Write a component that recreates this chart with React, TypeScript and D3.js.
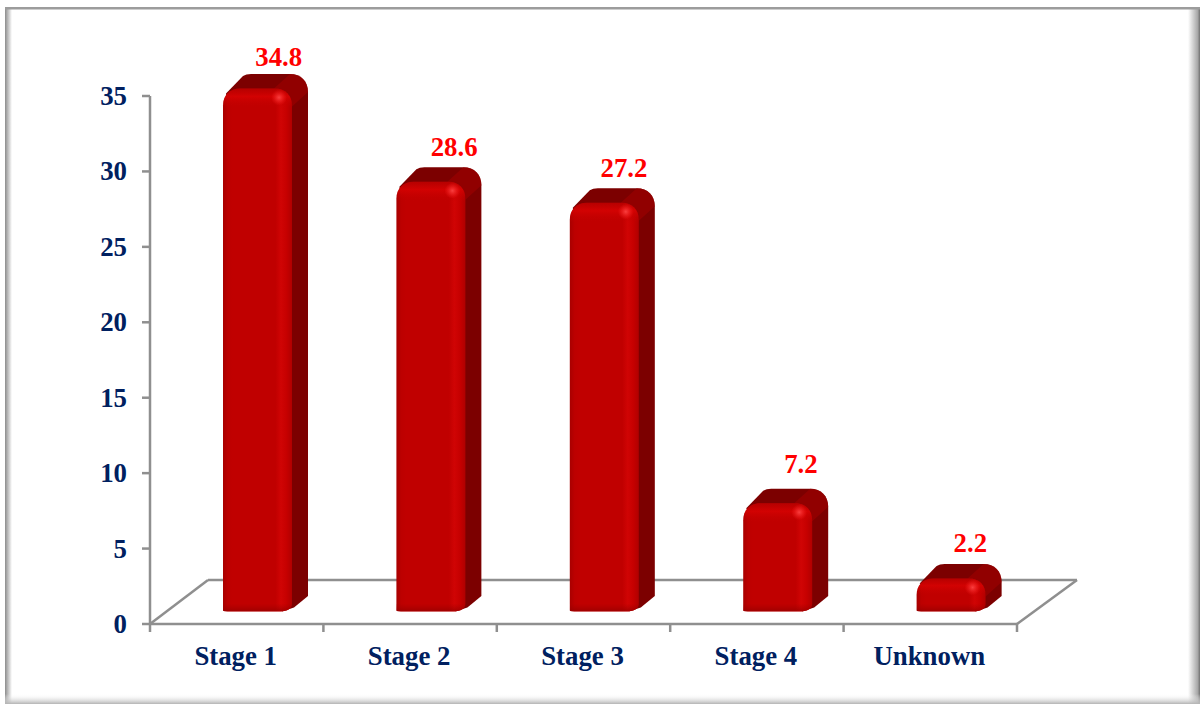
import React from "react";
import * as d3 from "d3";

const categories = ["Stage 1", "Stage 2", "Stage 3", "Stage 4", "Unknown"];
const values = [34.8, 28.6, 27.2, 7.2, 2.2];
const valueLabels = ["34.8", "28.6", "27.2", "7.2", "2.2"];
const yTicks = [0, 5, 10, 15, 20, 25, 30, 35];

const W = 1200, H = 704;
const NAVY = "#002060";
const GRID = "#8f8f8f";
const FONT = "'Liberation Serif', serif";
const FS = 26.8;

const x = d3.scaleBand<string>().domain(categories).range([150, 1017]).paddingInner(0).paddingOuter(0);
const y = d3.scaleLinear().domain([0, 35]).range([624, 96]);
const barY = d3.scaleLinear().domain([0, 35]).range([611.5, 85.5]);
const dx = 16, dy = 14.5, barW = 69, backX = 58, backY = 44;
const labelNudgeX = [42, 44, 40.5, 44, 40];
const labelNudgeY = [-23, -26, -26, -30, -26];

function roundedFront(x0: number, x1: number, top: number, bottom: number, r: number) {
  const p = d3.path();
  p.moveTo(x0, bottom - 1);
  p.lineTo(x0, top + r);
  p.bezierCurveTo(x0, top + r * 0.4, x0 + r * 0.4, top, x0 + r, top);
  p.lineTo(x1 - r, top);
  p.bezierCurveTo(x1 - r * 0.4, top, x1, top + r * 0.4, x1, top + r);
  p.lineTo(x1, bottom - 8);
  p.quadraticCurveTo(x1, bottom, x1 - 14, bottom);
  p.lineTo(x0 + 8, bottom);
  p.quadraticCurveTo(x0, bottom, x0, bottom - 1);
  p.closePath();
  return p.toString();
}

function body3d(x0: number, x1: number, top: number, bottom: number, r: number) {
  const p = d3.path();
  p.moveTo(x0 + 3, top + 5);
  p.lineTo(x0 + 20, top - dy + 2);
  p.quadraticCurveTo(x0 + 23, top - dy, x0 + 28, top - dy);
  p.lineTo(x1 + dx - r, top - dy);
  p.bezierCurveTo(x1 + dx - r * 0.4, top - dy, x1 + dx, top - dy + r * 0.4, x1 + dx, top - dy + r);
  p.lineTo(x1 + dx, bottom - dy - 1);
  p.lineTo(x1 + 2, bottom - 4);
  p.lineTo(x1 - 10, bottom);
  p.closePath();
  return p.toString();
}

function Bar({ name, v, i }: { name: string; v: number; i: number }) {
  const c = (x(name) as number) + x.bandwidth() / 2;
  const x0 = c - 13.7;
  const x1 = x0 + barW;
  const top = barY(v);
  const bottom = barY(0);
  const r = Math.min(17, (bottom - top) / 2);
  const id = `clip${i}`;
  const corner = d3.path();
  corner.moveTo(x1 - 18, top);
  corner.lineTo(x1 + dx - 18, top - dy);
  corner.bezierCurveTo(x1 + dx - 7, top - dy, x1 + dx, top - dy + 7, x1 + dx, top - dy + 18);
  corner.lineTo(x1, top + 18);
  corner.bezierCurveTo(x1, top + 7, x1 - 7, top, x1 - 18, top);
  corner.closePath();
  return (
    <g>
      <clipPath id={id}><path d={roundedFront(x0, x1, top, bottom, r)} /></clipPath>
      <path d={body3d(x0, x1, top, bottom, 18)} fill="#7c0000" />
      <path d={corner.toString()} fill="#9c0000" opacity={0.65} />
      <path d={roundedFront(x0, x1, top, bottom, r)} fill="url(#front)" />
      <g clipPath={`url(#${id})`}>
        <rect x={x0} y={top} width={x1 - x0} height={Math.min(20, (bottom - top) * 0.55)} fill="url(#bevel)" />
        <rect x={x0} y={bottom - 8} width={x1 - x0} height={8} fill="url(#bevelBottom)" />
        <circle cx={x1 - 13} cy={top + 9} r={8} fill="url(#spot)" />
      </g>
    </g>
  );
}

export default function App() {
  return (
    <svg width={W} height={H} viewBox={`0 0 ${W} ${H}`} style={{ position: "absolute", left: 0, top: 0, display: "block", background: "#fff" }}>
      <defs>
        <linearGradient id="front" x1="0" x2="1" y1="0" y2="0">
          <stop offset="0" stopColor="#a80000" />
          <stop offset="0.07" stopColor="#bc0000" />
          <stop offset="0.14" stopColor="#c00000" />
          <stop offset="0.76" stopColor="#c00000" />
          <stop offset="0.84" stopColor="#d00404" />
          <stop offset="0.92" stopColor="#c60000" />
          <stop offset="1" stopColor="#b00000" />
        </linearGradient>
        <linearGradient id="bevel" x1="0" x2="0" y1="0" y2="1">
          <stop offset="0" stopColor="#b00000" stopOpacity={0.6} />
          <stop offset="0.4" stopColor="#dc0303" stopOpacity={0.65} />
          <stop offset="1" stopColor="#c00000" stopOpacity={0} />
        </linearGradient>
        <linearGradient id="bevelBottom" x1="0" x2="0" y1="0" y2="1">
          <stop offset="0" stopColor="#a00000" stopOpacity={0} />
          <stop offset="1" stopColor="#900000" stopOpacity={0.7} />
        </linearGradient>
        <radialGradient id="spot">
          <stop offset="0" stopColor="#ff4a4a" stopOpacity={0.85} />
          <stop offset="1" stopColor="#ff2020" stopOpacity={0} />
        </radialGradient>
        <linearGradient id="edgeL" x1="0" x2="1" y1="0" y2="0">
          <stop offset="0" stopColor="#8c8c8c" />
          <stop offset="1" stopColor="#ffffff" />
        </linearGradient>
        <linearGradient id="edgeR" x1="0" x2="1" y1="0" y2="0">
          <stop offset="0" stopColor="#ffffff" />
          <stop offset="0.8" stopColor="#a8a8a8" />
          <stop offset="1" stopColor="#707070" />
        </linearGradient>
        <linearGradient id="edgeB" x1="0" x2="0" y1="0" y2="1">
          <stop offset="0" stopColor="#ffffff" stopOpacity={0} />
          <stop offset="1" stopColor="#b4b4b4" />
        </linearGradient>
      </defs>

      {/* frame */}
      <rect x={0} y={0} width={W} height={H} fill="#fff" />
      <rect x={5} y={9} width={7} height={H - 9} fill="url(#edgeL)" />
      <rect x={1188} y={9} width={12} height={H - 9} fill="url(#edgeR)" />
      <rect x={5} y={694} width={1195} height={10} fill="url(#edgeB)" />
      <rect x={5} y={7} width={1195} height={2.5} fill="#9c9c9c" />

      {/* floor */}
      <g fill="none" stroke={GRID} strokeWidth={2.5}>
        <line x1={150} y1={y(0)} x2={150 + backX} y2={y(0) - backY} />
        <line x1={150 + backX} y1={y(0) - backY} x2={1017 + backX + 2} y2={y(0) - backY} />
        <line x1={1017} y1={y(0)} x2={1017 + backX + 2} y2={y(0) - backY} />
        <line x1={150} y1={y(35)} x2={150} y2={y(0) + 8} />
        <line x1={150} y1={y(0)} x2={1017} y2={y(0)} />
      </g>
      {yTicks.map((t) => (
        <g key={t}>
          <line x1={142} x2={150} y1={y(t)} y2={y(t)} stroke={GRID} strokeWidth={2.5} />
          <text x={127} y={y(t) + 9} textAnchor="end" fontFamily={FONT} fontWeight="bold" fontSize={FS} fill={NAVY}>{t}</text>
        </g>
      ))}
      {x.domain().slice(1).map((c) => (
        <line key={c} x1={x(c)} x2={x(c)} y1={y(0)} y2={y(0) + 8} stroke={GRID} strokeWidth={2.5} />
      ))}
      <line x1={1017} x2={1017} y1={y(0)} y2={y(0) + 8} stroke={GRID} strokeWidth={2.5} />

      {categories.map((c, i) => (
        <Bar key={c} name={c} v={values[i]} i={i} />
      ))}

      {categories.map((c) => (
        <text key={c} x={(x(c) as number) + x.bandwidth() / 2 - 1} y={665} textAnchor="middle" fontFamily={FONT} fontWeight="bold" fontSize={FS} fill={NAVY}>{c}</text>
      ))}
      {categories.map((c, i) => (
        <text key={c} x={(x(c) as number) + x.bandwidth() / 2 + labelNudgeX[i]} y={barY(values[i]) + labelNudgeY[i]} textAnchor="middle" fontFamily={FONT} fontWeight="bold" fontSize={FS} fill="#ff0000">{valueLabels[i]}</text>
      ))}
    </svg>
  );
}
